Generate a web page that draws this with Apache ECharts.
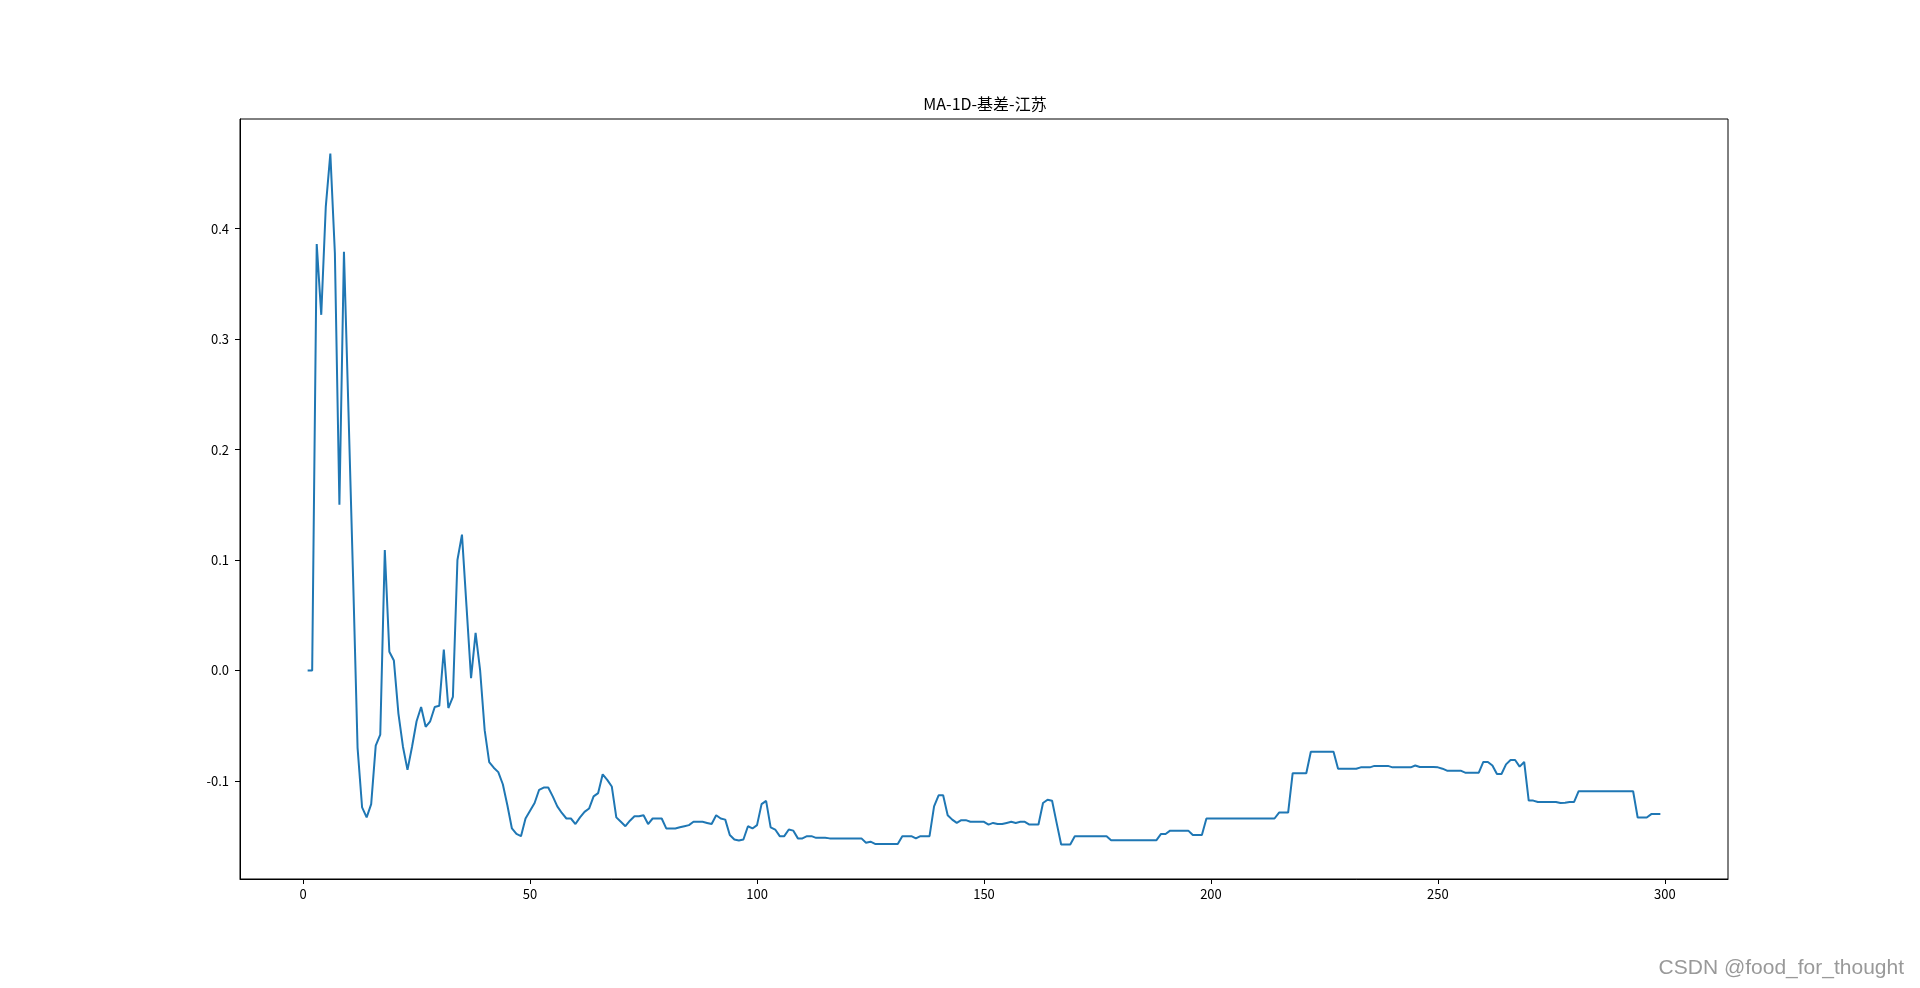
<!DOCTYPE html>
<html>
<head>
<meta charset="utf-8">
<script src="https://cdn.jsdelivr.net/npm/echarts@6.0.0/dist/echarts.min.js"></script>
<style>
html,body{margin:0;padding:0;background:#fff;}
#chart{width:1920px;height:988px;}
</style>
</head>
<body>
<div id="chart"></div>
<script>
// ---- data ----
const chartTitle = 'MA-1D-基差-江苏';
const watermark = 'CSDN @food_for_thought';
const xStart = 1; // first index on the x axis
const basisValues = [
  0, 0, 0.386, 0.322, 0.420, 0.468, 0.378, 0.150, 0.379, 0.234,
  0.086, -0.070, -0.124, -0.133, -0.121, -0.068, -0.058, 0.109, 0.017, 0.009,
  -0.039, -0.069, -0.090, -0.069, -0.046, -0.033, -0.051, -0.046, -0.033, -0.032,
  0.019, -0.034, -0.024, 0.100, 0.123, 0.058, -0.007, 0.034, 0.000, -0.054,
  -0.083, -0.088, -0.092, -0.103, -0.122, -0.143, -0.148, -0.150, -0.134, -0.127,
  -0.120, -0.108, -0.106, -0.106, -0.114, -0.123, -0.129, -0.134, -0.134, -0.139,
  -0.133, -0.128, -0.125, -0.114, -0.111, -0.094, -0.099, -0.105, -0.133, -0.137,
  -0.141, -0.136, -0.132, -0.132, -0.131, -0.139, -0.134, -0.134, -0.134, -0.143,
  -0.143, -0.143, -0.142, -0.141, -0.140, -0.137, -0.137, -0.137, -0.138, -0.139,
  -0.131, -0.134, -0.135, -0.149, -0.153, -0.154, -0.153, -0.141, -0.143, -0.140,
  -0.121, -0.118, -0.142, -0.144, -0.150, -0.150, -0.144, -0.145, -0.152, -0.152,
  -0.150, -0.150, -0.1515, -0.1515, -0.1515, -0.152, -0.152, -0.152, -0.152, -0.152,
  -0.152, -0.152, -0.152, -0.156, -0.155, -0.157, -0.157, -0.157, -0.157, -0.157,
  -0.157, -0.150, -0.150, -0.150, -0.152, -0.150, -0.150, -0.150, -0.123, -0.113,
  -0.113, -0.131, -0.135, -0.138, -0.1355, -0.1355, -0.137, -0.137, -0.137, -0.137,
  -0.1395, -0.138, -0.139, -0.139, -0.138, -0.137, -0.138, -0.137, -0.137, -0.1395,
  -0.1395, -0.1395, -0.120, -0.117, -0.118, -0.138, -0.1575, -0.1575, -0.1575, -0.150,
  -0.150, -0.150, -0.150, -0.150, -0.150, -0.150, -0.150, -0.1536, -0.1536, -0.1536,
  -0.1536, -0.1536, -0.1536, -0.1536, -0.1536, -0.1536, -0.1536, -0.1536, -0.148, -0.148,
  -0.145, -0.145, -0.145, -0.145, -0.145, -0.149, -0.149, -0.149, -0.134, -0.134,
  -0.134, -0.134, -0.134, -0.134, -0.134, -0.134, -0.134, -0.134, -0.134, -0.134,
  -0.134, -0.134, -0.134, -0.134, -0.1286, -0.1286, -0.1286, -0.093, -0.093, -0.093,
  -0.093, -0.0735, -0.0735, -0.0735, -0.0735, -0.0735, -0.0735, -0.089, -0.089, -0.089,
  -0.089, -0.089, -0.0877, -0.0877, -0.0877, -0.0864, -0.0864, -0.0864, -0.0864, -0.0877,
  -0.0877, -0.0877, -0.0877, -0.0877, -0.086, -0.0874, -0.0874, -0.0874, -0.0874, -0.0877,
  -0.0889, -0.0907, -0.0907, -0.0907, -0.0907, -0.0925, -0.0925, -0.0925, -0.0925, -0.0828,
  -0.0828, -0.086, -0.0937, -0.0937, -0.085, -0.081, -0.081, -0.087, -0.0828, -0.1178,
  -0.1178, -0.119, -0.119, -0.119, -0.119, -0.119, -0.120, -0.1197, -0.119, -0.119,
  -0.1093, -0.1093, -0.1093, -0.1093, -0.1093, -0.1093, -0.1093, -0.1093, -0.1093, -0.1093,
  -0.1093, -0.1093, -0.1093, -0.1331, -0.1331, -0.1331, -0.130, -0.130, -0.130
];
const xTicks = [0, 50, 100, 150, 200, 250, 300];
const yTicks = [-0.1, 0.0, 0.1, 0.2, 0.3, 0.4];

// ---- chart ----
const seriesData = basisValues.map((v, i) => [xStart + i, v]);
const xs = seriesData.map(d => d[0]);
const xMinD = Math.min(...xs), xMaxD = Math.max(...xs);
const yMinD = Math.min(...basisValues), yMaxD = Math.max(...basisValues);
const xPad = (xMaxD - xMinD) * 0.05, yPad = (yMaxD - yMinD) * 0.05;

const FONT = "'Noto Sans CJK SC', 'DejaVu Sans', sans-serif";
const chart = echarts.init(document.getElementById('chart'), null, {renderer: 'canvas'});
chart.setOption({
  animation: false,
  backgroundColor: '#fff',
  title: {
    text: chartTitle,
    left: 980,
    textAlign: 'center',
    top: 91,
    textStyle: {fontFamily: FONT, fontSize: 16, fontWeight: 'normal', color: '#000'}
  },
  grid: {
    left: 240, top: 119, width: 1488, height: 760,
    show: true, borderColor: '#000', borderWidth: 1, backgroundColor: 'transparent'
  },
  xAxis: {
    type: 'value',
    min: xMinD - xPad,
    max: xMaxD + xPad,
    axisLine: {show: true, onZero: false, lineStyle: {color: '#000', width: 1}},
    axisTick: {show: true, length: 5, lineStyle: {color: '#000'}, customValues: xTicks},
    axisLabel: {show: true, margin: 9, color: '#000', fontFamily: FONT, fontSize: 13,
      customValues: xTicks, formatter: v => String(v)},
    splitLine: {show: false}
  },
  yAxis: {
    type: 'value',
    min: yMinD - yPad,
    max: yMaxD + yPad,
    axisLine: {show: true, onZero: false, lineStyle: {color: '#000', width: 1}},
    axisTick: {show: true, length: 5, lineStyle: {color: '#000'}, customValues: yTicks},
    axisLabel: {show: true, margin: 11, color: '#000', fontFamily: FONT, fontSize: 13,
      customValues: yTicks, formatter: v => v.toFixed(1)},
    splitLine: {show: false}
  },
  series: [{
    type: 'line',
    data: seriesData,
    showSymbol: false,
    symbol: 'none',
    lineStyle: {color: '#1f77b4', width: 2},
    itemStyle: {color: '#1f77b4'},
    clip: true
  }],
  graphic: [{
    type: 'text',
    right: 16,
    top: 958,
    style: {text: watermark, fill: '#999999', font: "21px 'Liberation Sans', Arial, sans-serif"}
  }]
});
</script>
</body>
</html>
